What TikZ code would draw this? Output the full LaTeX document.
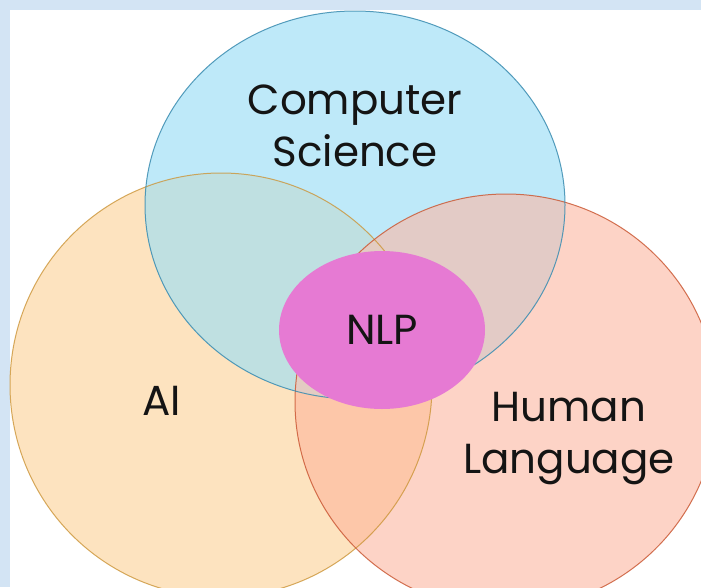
\documentclass[tikz,border=0pt]{standalone}
\usepackage{fontspec}
\setmainfont{Poppins}
\usetikzlibrary{shapes.geometric}
\definecolor{bgblue}{HTML}{D3E4F4}
\definecolor{blueFill}{HTML}{BEE9F9}
\definecolor{orangeFill}{HTML}{FDE3BF}
\definecolor{redFill}{HTML}{FDD3C6}
\definecolor{boFill}{HTML}{BFE0E1}
\definecolor{brFill}{HTML}{E3CBC6}
\definecolor{orFill}{HTML}{FDC7A9}
\definecolor{borFill}{HTML}{E3CCC2}
\definecolor{nlpFill}{HTML}{E67AD3}
\definecolor{blueLine}{HTML}{3A8CB0}
\definecolor{orangeLine}{HTML}{CC9538}
\definecolor{redLine}{HTML}{CB5A36}
\definecolor{txt}{HTML}{141414}
\tikzset{
  lbl/.style={text=txt, align=center, inner sep=0pt, font=\fontsize{42}{52}\selectfont},
  rim/.style={line width=1pt},
}
\newcommand{\blueshape}{(355,205) ellipse [x radius=210pt, y radius=194pt]}
\newcommand{\orangeshape}{(221,385) ellipse [x radius=211pt, y radius=212pt]}
\newcommand{\redshape}{(506,402) ellipse [x radius=211pt, y radius=208pt]}
\begin{document}
\begin{tikzpicture}[x=1pt,y=-1pt]
\useasboundingbox (0,0) rectangle (701,587);
\fill[bgblue] (0,0) rectangle (701,587);
\fill[white] (10,10) rectangle (701,587);
\begin{scope}
\clip (0,0) rectangle (701,587);
% solid fills
\fill[orangeFill] \orangeshape;
\fill[redFill] \redshape;
\fill[blueFill] \blueshape;
% pairwise overlaps
\begin{scope}\clip \blueshape; \fill[boFill] \orangeshape; \end{scope}
\begin{scope}\clip \blueshape; \fill[brFill] \redshape; \end{scope}
\begin{scope}\clip \orangeshape; \fill[orFill] \redshape; \end{scope}
\begin{scope}\clip \blueshape; \clip \orangeshape; \fill[borFill] \redshape; \end{scope}
% rims
\draw[rim, orangeLine, draw opacity=0.8] \orangeshape;
\draw[rim, redLine, draw opacity=0.85] \redshape;
\draw[rim, blueLine, draw opacity=0.85] \blueshape;
\end{scope}
% NLP
\node[ellipse, fill=nlpFill, minimum width=206pt, minimum height=158pt, inner sep=0pt] (nlpshape) at (382,330) {};
\node[lbl] (nlp) at (382,330) {NLP};
\node[lbl] (cs) at (355,126) {Computer\\Science};
\node[lbl] (ai) at (162,401) {AI};
\node[lbl] (hl) at (569,439) {Human\\Language};
\end{tikzpicture}
\end{document}
